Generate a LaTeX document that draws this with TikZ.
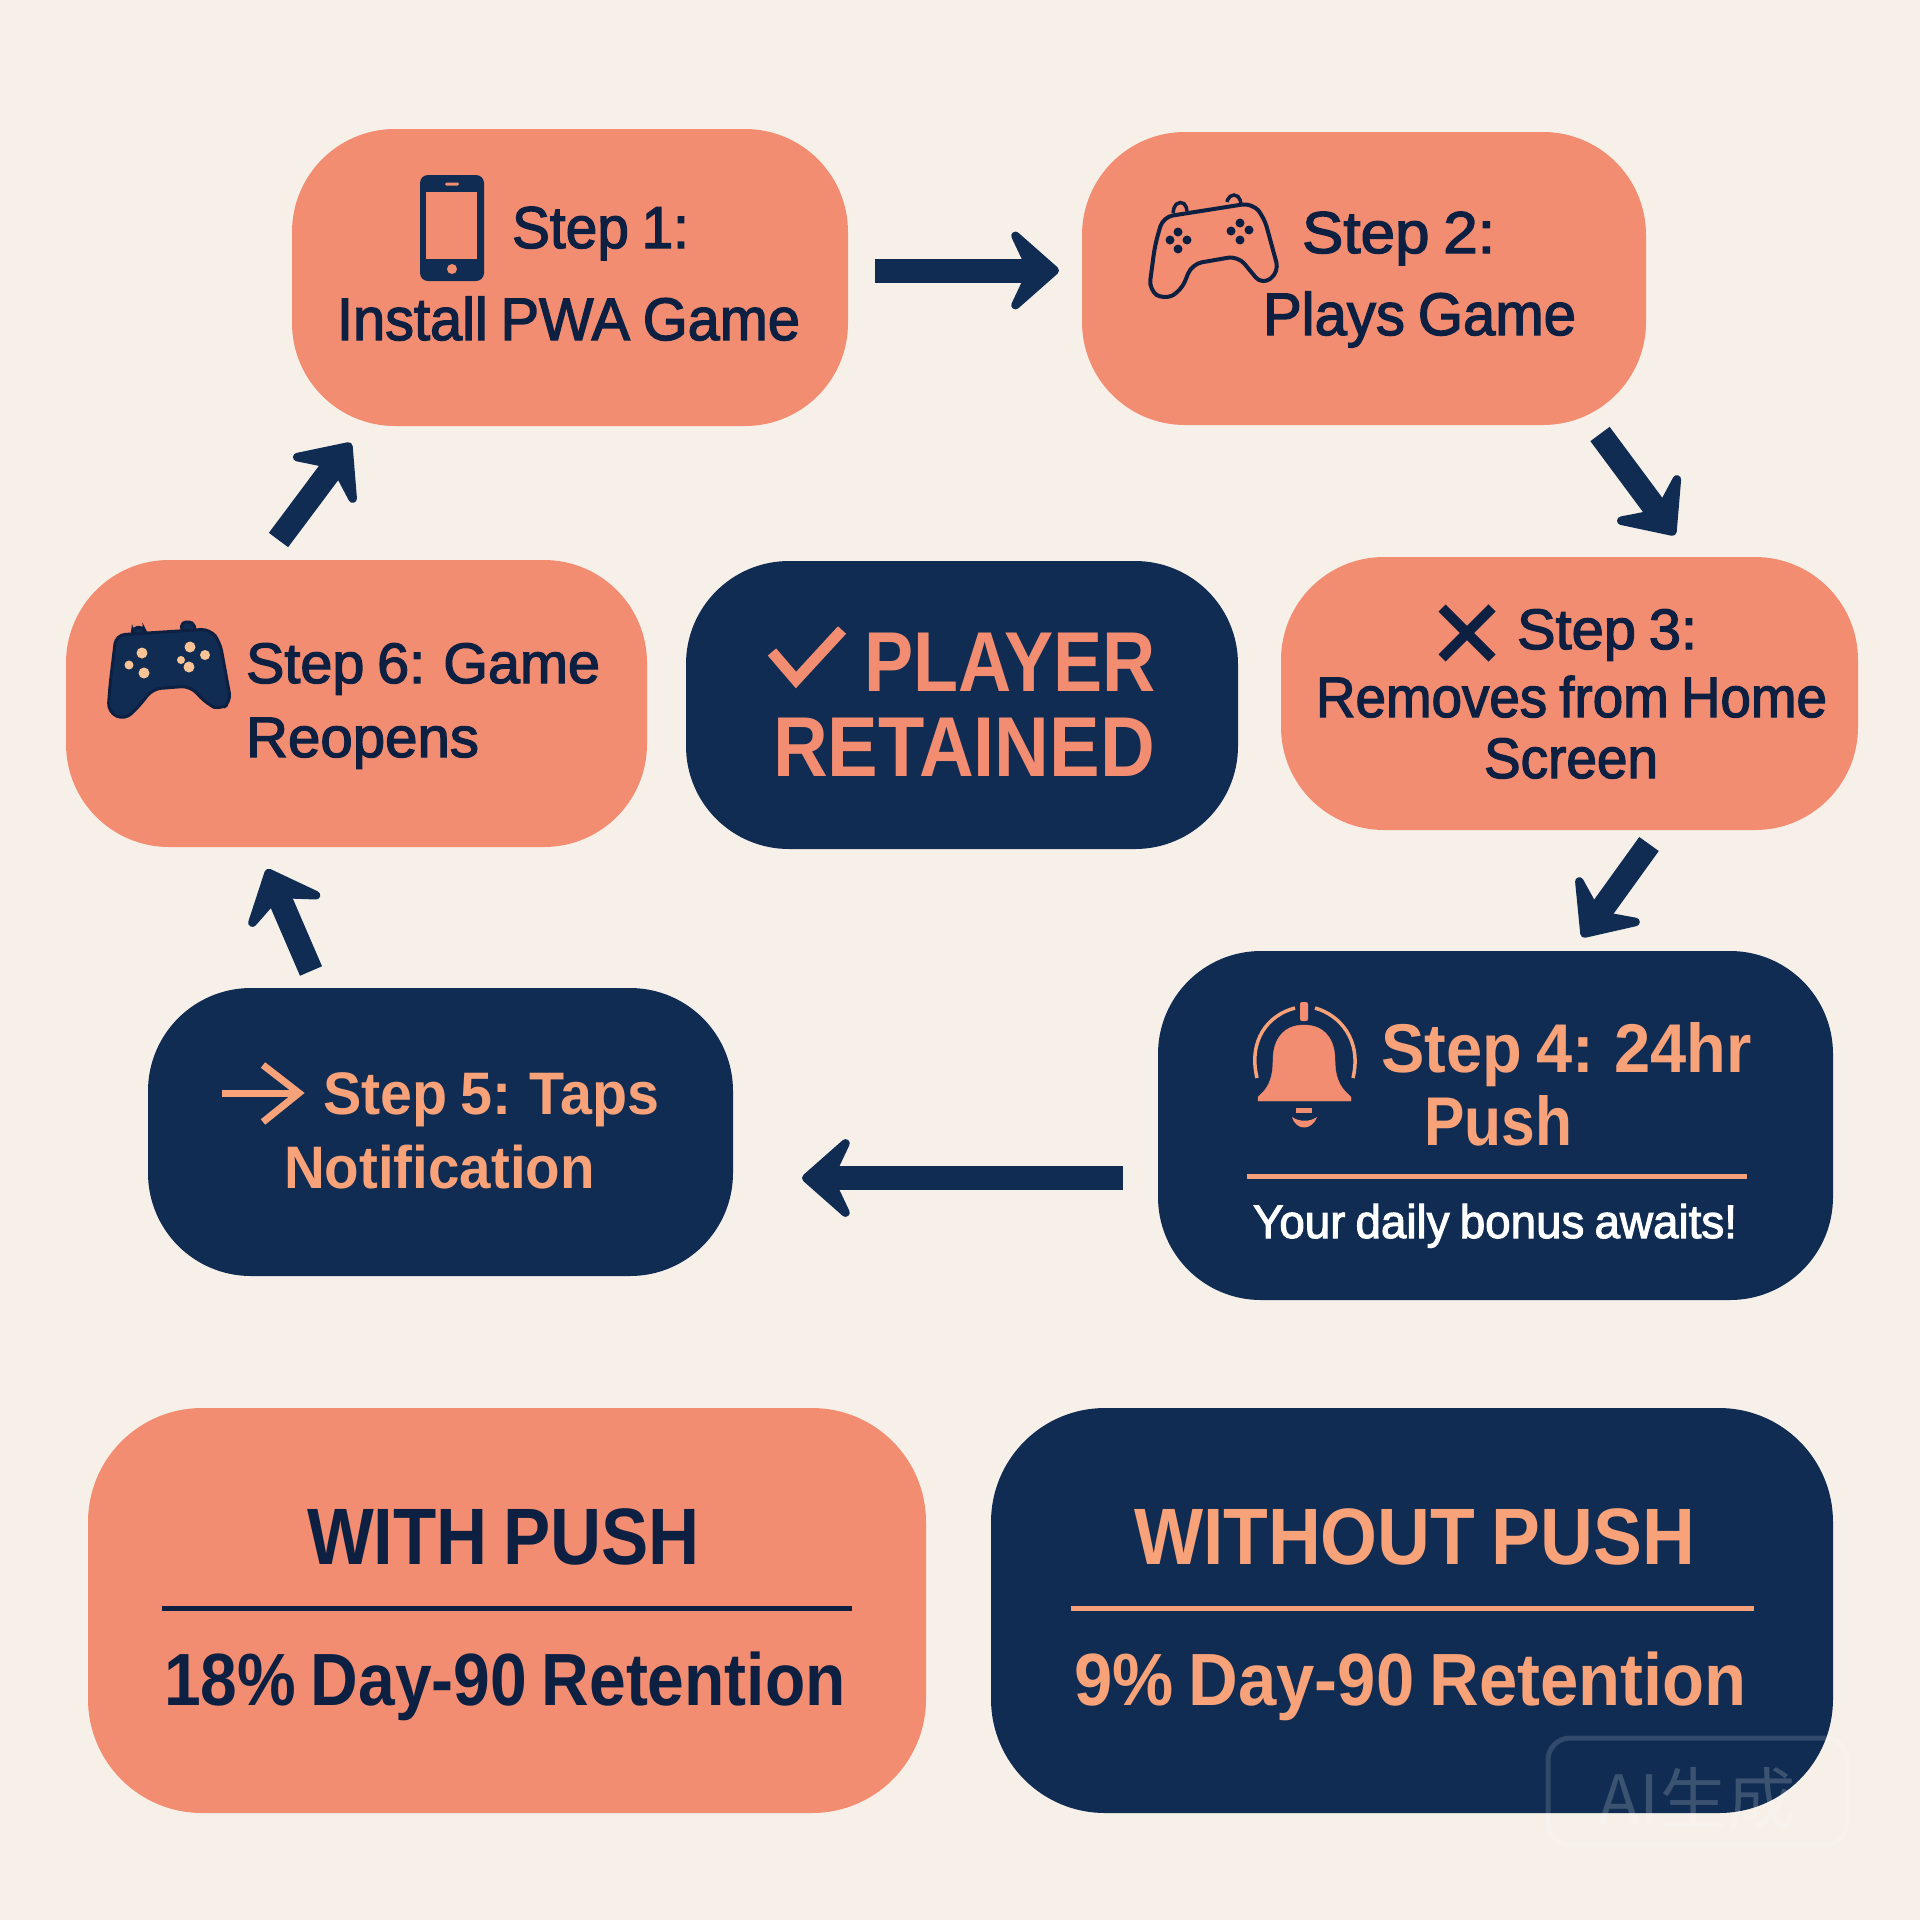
\documentclass[tikz,border=0pt]{standalone}
\usepackage{graphicx}
\usepackage{fontspec}
\usetikzlibrary{arrows.meta}
\setmainfont{Liberation Sans}
\newfontfamily\medf[FakeBold=2.3,WordSpace=0.8]{Liberation Sans}
\newfontfamily\bnar[WordSpace=0.8,UprightFont={* Bold}]{Liberation Sans}
\newfontfamily\cjkf{Noto Sans CJK SC}
\definecolor{bgc}{RGB}{246,240,233}
\definecolor{salmon}{RGB}{242,141,114}
\definecolor{navy}{RGB}{16,44,82}
\definecolor{ink}{RGB}{13,32,66}
\definecolor{peach}{RGB}{248,162,122}
\definecolor{btn}{RGB}{248,196,150}
\newcommand{\sz}[1]{\fontsize{#1}{#1}\selectfont}
\newcommand{\fitw}[2]{\resizebox{#1pt}{\height}{#2}}
\tikzset{
  boxs/.style={rectangle,rounded corners=103pt,fill=salmon,inner sep=0pt,outer sep=0pt},
  boxn/.style={rectangle,rounded corners=103pt,fill=navy,inner sep=0pt,outer sep=0pt},
  lbl/.style={anchor=base west,inner sep=0pt,outer sep=0pt},
  flow/.style={draw=navy,line width=24pt,-{Stealth[length=58pt,width=102pt,inset=24pt,round,line width=14pt,fill=navy]}},
  rulek/.style={line width=5pt}
}
\begin{document}
\begin{tikzpicture}[x=1pt,y=-1pt]
\useasboundingbox (0,0) rectangle (1920,1920);
\fill[bgc] (0,0) rectangle (1920,1920);
% boxes
\node[boxs,minimum width=556pt,minimum height=297pt] (s1) at (570,277.5) {};
\node[boxs,minimum width=564pt,minimum height=293pt] (s2) at (1364,278.5) {};
\node[boxs,minimum width=577pt,minimum height=273pt] (s3) at (1569.5,693.5) {};
\node[boxn,minimum width=675pt,minimum height=349pt] (s4) at (1495.5,1125.5) {};
\node[boxn,minimum width=585pt,minimum height=288pt] (s5) at (440.5,1132) {};
\node[boxs,minimum width=581pt,minimum height=287pt] (s6) at (356.5,703.5) {};
\node[boxn,minimum width=552pt,minimum height=288pt] (c) at (962,705) {};
\node[boxs,rounded corners=114pt,minimum width=838pt,minimum height=405pt] (w) at (507,1610.5) {};
\node[boxn,rounded corners=114pt,minimum width=842pt,minimum height=405pt] (wo) at (1412,1610.5) {};
% connectors
\draw[flow] ([shift={(27,-7)}]s1.east) -- ([shift={(-23,-8)}]s2.west);
\draw[flow] ([shift={(236,9)}]s2.south) -- ([shift={(105.5,-22)}]s3.north);
\draw[flow] ([shift={(79.5,14)}]s3.south) -- ([shift={(86.5,-14)}]s4.north);
\draw[flow] ([shift={(-35,52.5)}]s4.west) -- ([shift={(69,46)}]s5.east);
\draw[flow] ([shift={(-129.5,-17)}]s5.north) -- ([shift={(-89.5,22)}]s6.south);
\draw[flow] ([shift={(-78,-20)}]s6.north) -- ([shift={(-219,17)}]s1.south);
% step 1
\node[lbl,text=ink,font=\medf\sz{59}] (t1a) at (512,248) {\fitw{177}{Step 1:}};
\node[lbl,text=ink,font=\medf\sz{60}] (t1b) at (337,340) {\fitw{463}{Install PWA Game}};
\fill[navy,rounded corners=8pt] (420,175) rectangle (484,281);
\fill[salmon] (426,192) rectangle (477,259);
\fill[salmon,rounded corners=1.5pt] (445,182.5) rectangle (459,185.5);
\fill[salmon] (452,269) circle (5);
% step 2
\node[lbl,text=ink,font=\medf\sz{59}] (t2a) at (1302,253) {\fitw{193}{Step 2:}};
\node[lbl,text=ink,font=\medf\sz{60}] (t2b) at (1263,335) {\fitw{313}{Plays Game}};
\draw[ink,line width=3.5pt,rounded corners=5pt] (1173,213) -- (1175,203) -- (1185,202) -- (1187,211);
\draw[ink,line width=3.5pt,rounded corners=5pt] (1227,202) -- (1229,195) -- (1239,195) -- (1241,204);
\draw[ink,line width=4pt,fill=salmon,rounded corners=10pt] (1163,217) -- (1252,203) -- (1264,217) -- (1279,272) -- (1262,285) -- (1238,256) -- (1192,264) -- (1181,291) -- (1164,300) -- (1149,290) -- (1155,245) -- cycle;
\foreach \p in {(1178,232),(1170,240),(1187,240),(1178,249),(1240,223),(1231,231),(1249,230),(1240,240)}{\fill[ink] \p circle (4.5);}
% step 3
\node[lbl,text=ink,font=\medf\sz{57}] (t3a) at (1517,649) {\fitw{180}{Step 3:}};
\node[lbl,text=ink,font=\medf\sz{57}] (t3b) at (1316,717) {\fitw{511}{Removes from Home}};
\node[lbl,text=ink,font=\medf\sz{57}] (t3c) at (1484,778) {\fitw{174}{Screen}};
\draw[ink,line width=10pt] (1442,608) -- (1492,658) (1492,608) -- (1442,658);
% step 4
\node[lbl,text=peach,font=\bnar\sz{69}] (t4a) at (1381,1072) {\fitw{371}{Step 4: 24hr}};
\node[lbl,text=peach,font=\bnar\sz{69}] (t4b) at (1424,1145) {\fitw{148}{Push}};
\node[lbl,text=white,font=\medf\sz{47}] (t4c) at (1253,1238) {\fitw{484}{Your daily bonus awaits!}};
\draw[rulek,draw=peach!85!salmon] (1247,1176) -- (1747,1176);
\draw[peach,line width=3.5pt] (1295,1008) .. controls (1268,1015) and (1248,1040) .. (1257,1078);
\draw[peach,line width=3.5pt] (1315,1008) .. controls (1340,1015) and (1362,1040) .. (1353,1078);
\fill[salmon,rounded corners=2pt] (1300,1002) rectangle (1308,1021);
\draw[salmon,fill=salmon,line join=round] (1304,1025) .. controls (1283,1025) and (1273,1040) .. (1273,1060) .. controls (1273,1082) and (1266,1090) .. (1258,1097) -- (1258,1101) -- (1351,1101) -- (1351,1097) .. controls (1343,1090) and (1335,1082) .. (1335,1060) .. controls (1335,1040) and (1325,1025) .. (1304,1025) -- cycle;
\fill[salmon] (1296,1108) rectangle (1312,1113);
\fill[salmon] (1292,1117) .. controls (1296,1131) and (1312,1131) .. (1317,1117) .. controls (1310,1122) and (1299,1122) .. (1292,1117) -- cycle;
% step 5
\node[lbl,text=peach,font=\bnar\sz{60}] (t5a) at (323,1114) {\fitw{336}{Step 5: Taps}};
\node[lbl,text=peach,font=\bnar\sz{60}] (t5b) at (284,1188) {\fitw{311}{Notification}};
\draw[peach,line width=7pt] (222,1093) -- (298,1093);
\draw[peach,line width=7pt] (263,1065) -- (299,1093) -- (263,1122);
% step 6
\node[lbl,text=ink,font=\medf\sz{57}] (t6a) at (246,683) {\fitw{354}{Step 6: Game}};
\node[lbl,text=ink,font=\medf\sz{57}] (t6b) at (246,757) {\fitw{233}{Reopens}};
\draw[ink,line width=3pt,fill=navy,rounded corners=4pt] (132,635) -- (133,628) -- (143,627) -- (146,633) -- cycle;
\draw[ink,line width=3pt,fill=navy,rounded corners=4pt] (181,631) -- (182,622) -- (193,622) -- (196,632) -- cycle;
\draw[ink,line width=3pt,fill=navy,rounded corners=9pt] (116,635) -- (210,629) -- (220,642) -- (231,702) -- (220,710) -- (207,704) -- (190,686) -- (152,689) -- (142,703) -- (125,720) -- (108,712) -- (110,685) -- cycle;
\foreach \p/\r in {(142,653)/5.5,(129,665)/4.5,(144,673)/5.5,(190,647)/5.5,(205,655)/5,(181,660)/4,(189,667)/5.5}{\fill[btn] \p circle (\r);}
% centre
\draw[salmon,line width=11pt] (772,652) -- (796,680) -- (842,630);
\node[lbl,text=salmon,font=\bnar\sz{85}] (ca) at (864,691) {\fitw{292}{PLAYER}};
\node[lbl,text=salmon,font=\bnar\sz{85}] (cb) at (773,776) {\fitw{382}{RETAINED}};
% with push
\node[lbl,text=ink,font=\bnar\sz{80}] (wa) at (307,1564) {\fitw{393}{WITH PUSH}};
\draw[rulek,ink] (162,1608) -- (852,1608);
\node[lbl,text=ink,font=\bnar\sz{74}] (wb) at (164,1705) {\fitw{682}{18\% Day-90 Retention}};
% without push
\node[lbl,text=peach,font=\bnar\sz{80}] (woa) at (1134,1564) {\fitw{561}{WITHOUT PUSH}};
\draw[rulek,peach!85!salmon] (1071,1608) -- (1754,1608);
\node[lbl,text=peach,font=\bnar\sz{74}] (wob) at (1074,1705) {\fitw{673}{9\% Day-90 Retention}};
% watermark
\draw[white,opacity=0.14,line width=5pt,rounded corners=22pt] (1548,1738) rectangle (1847,1845);
\node[lbl,text=white,text opacity=0.18,font=\cjkf\sz{68}] (wm) at (1598,1824) {AI生成};
\end{tikzpicture}
\end{document}
